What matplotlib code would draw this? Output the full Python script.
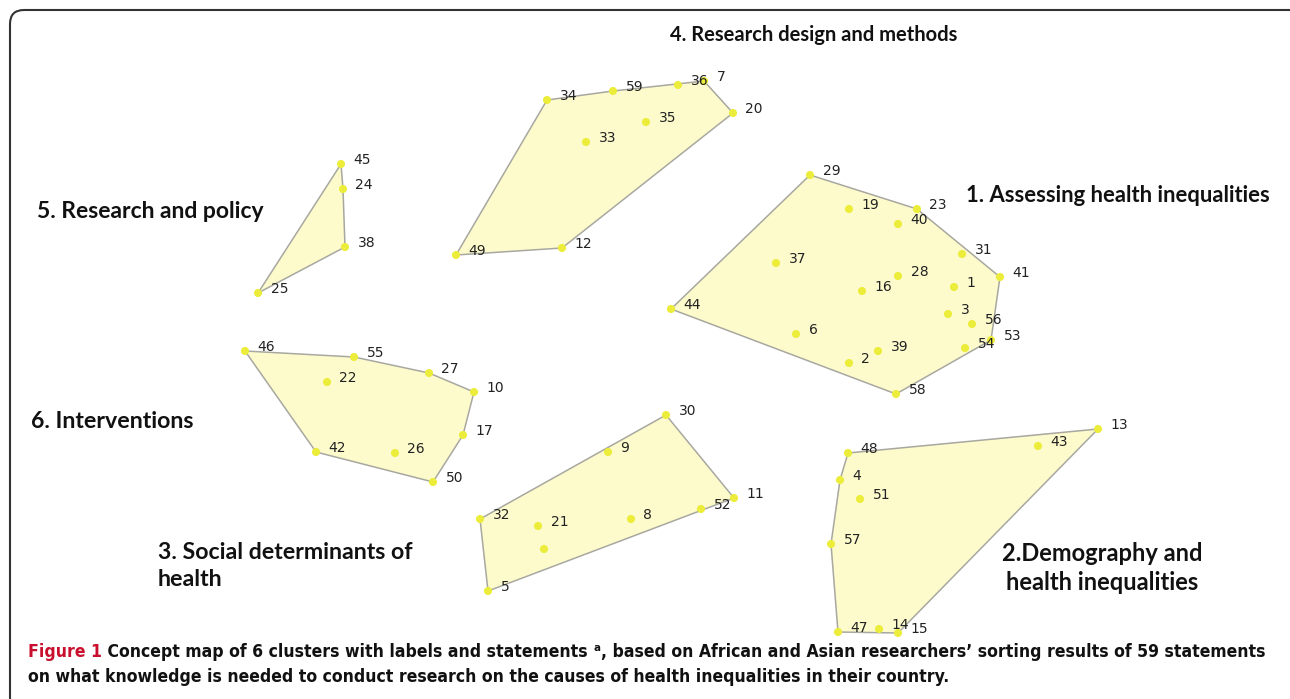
import matplotlib
matplotlib.use("Agg")
import matplotlib.pyplot as plt
from matplotlib.patches import Polygon, FancyBboxPatch

# ---------------- data (concept-map coordinates, image units) ----------------
c1_ids = ["29", "19", "23", "40", "31", "41", "37", "28", "16", "1", "44", "3",
          "56", "53", "54", "6", "39", "2", "58"]
c1_x = [810, 849, 917, 898, 962, 1000, 776, 898, 862, 954, 671, 948, 972, 991, 965, 796, 878, 849, 896]
c1_y = [175, 209, 209, 224, 254, 277, 263, 276, 291, 287, 309, 314, 324, 340, 348, 334, 351, 363, 394]

c2_ids = ["13", "43", "48", "4", "51", "57", "47", "14", "15"]
c2_x = [1098, 1038, 848, 840, 860, 831, 838, 879, 898]
c2_y = [429, 446, 453, 480, 499, 544, 632, 629, 633]

c3_ids = ["30", "9", "11", "52", "32", "21", "8", "", "5"]
c3_x = [666, 608, 734, 701, 480, 538, 631, 544, 488]
c3_y = [415, 452, 498, 509, 519, 526, 519, 549, 591]

c4_ids = ["34", "59", "36", "7", "20", "12", "49", "33", "35"]
c4_x = [547, 613, 678, 704, 733, 562, 456, 586, 646]
c4_y = [100, 91, 85, 81, 113, 248, 255, 142, 122]

c5_ids = ["45", "24", "38", "25"]
c5_x = [341, 343, 345, 258]
c5_y = [164, 189, 247, 293]

c6_ids = ["46", "55", "22", "27", "10", "17", "42", "26", "50"]
c6_x = [245, 354, 327, 429, 474, 463, 316, 395, 433]
c6_y = [351, 357, 382, 373, 392, 435, 452, 453, 482]

cluster_names = ["1. Assessing health inequalities",
                 "2.Demography and\nhealth inequalities",
                 "3. Social determinants of\nhealth",
                 "4. Research design and methods",
                 "5. Research and policy",
                 "6. Interventions"]

caption_red = "Figure 1"
caption_1 = " Concept map of 6 clusters with labels and statements "
caption_sup = "a"
caption_2 = ", based on African and Asian researchers\u2019 sorting results of 59 statements"
caption_3 = "on what knowledge is needed to conduct research on the causes of health inequalities in their country."

clusters = [(c1_ids, c1_x, c1_y), (c2_ids, c2_x, c2_y), (c3_ids, c3_x, c3_y),
            (c4_ids, c4_x, c4_y), (c5_ids, c5_x, c5_y), (c6_ids, c6_x, c6_y)]


def convex_hull(pts):
    pts = sorted(set(pts))
    if len(pts) <= 2:
        return pts

    def cross(o, a, b):
        return (a[0] - o[0]) * (b[1] - o[1]) - (a[1] - o[1]) * (b[0] - o[0])
    lower, upper = [], []
    for p in pts:
        while len(lower) >= 2 and cross(lower[-2], lower[-1], p) <= 0:
            lower.pop()
        lower.append(p)
    for p in reversed(pts):
        while len(upper) >= 2 and cross(upper[-2], upper[-1], p) <= 0:
            upper.pop()
        upper.append(p)
    return lower[:-1] + upper[:-1]


W, H = 1290, 699
fig = plt.figure(figsize=(W / 100, H / 100), dpi=100)
ax = fig.add_axes([0, 0, 1, 1])
ax.set_xlim(0, W)
ax.set_ylim(H, 0)
ax.axis("off")

# frame
frame = FancyBboxPatch((10, 10), W + 20, H + 40,
                       boxstyle="round,pad=0,rounding_size=14",
                       fc="none", ec="#333333", lw=1.5, zorder=0)
ax.add_patch(frame)

fill_c = "#fdfbcc"
edge_c = "#a8a8a0"
dot_c = "#ecec3a"

for ids, xs, ys in clusters:
    hull = convex_hull(list(zip(xs, ys)))
    ax.add_patch(Polygon(hull, closed=True, fc=fill_c, ec=edge_c, lw=1.1, zorder=1))
    ax.scatter(xs, ys, s=34, c=dot_c, edgecolors="none", zorder=3)
    for lab, x, y in zip(ids, xs, ys):
        if lab:
            ax.annotate(lab, (x, y), xytext=(9, 3), textcoords="offset points",
                        ha="left", va="center", fontsize=10, color="#222222",
                        family="DejaVu Sans", zorder=4)

lab_font = dict(family="Lato", fontweight="bold", color="#111111")
ax.text(966, 195, cluster_names[0], ha="left", va="center", fontsize=15.8, **lab_font)
ax.text(1102, 568, cluster_names[1], ha="center", va="center", linespacing=1.3,
        fontsize=17, **lab_font)
ax.text(158, 566, cluster_names[2], ha="left", va="center", linespacing=1.3,
        fontsize=16.7, **lab_font)
ax.text(670, 35, cluster_names[3], ha="left", va="center", fontsize=14.5, **lab_font)
ax.text(37, 212, cluster_names[4], ha="left", va="center", fontsize=16.5, **lab_font)
ax.text(31, 422, cluster_names[5], ha="left", va="center", fontsize=16.7, **lab_font)

# caption
cap_family = "DejaVu Sans"
cap_kw = dict(family=cap_family, fontweight="bold", fontstretch="condensed")
fs = 12.0
t0 = ax.text(28, 657, caption_red, ha="left", va="baseline", color="#c8102e",
             fontsize=fs, **cap_kw)
t1 = ax.annotate(caption_1, xy=(1, 0), xycoords=t0, va="bottom", ha="left",
                 color="#111111", fontsize=fs, **cap_kw)
t2 = ax.annotate(caption_sup, xy=(1, 0.45), xycoords=t1, va="bottom", ha="left",
                 color="#111111", fontsize=fs * 0.65, **cap_kw)
t3 = ax.annotate(caption_2, xy=(1, 0), xycoords=t1, xytext=(6, 0),
                 textcoords="offset points", va="bottom", ha="left",
                 color="#111111", fontsize=fs, **cap_kw)
t4 = ax.text(28, 682, caption_3, ha="left", va="baseline", color="#111111",
             fontsize=fs, **cap_kw)

# fit caption line 1 to the reference width (~1240 px)
fig.canvas.draw()
r = fig.canvas.get_renderer()
right = t3.get_window_extent(r).x1
scale = (1266 - 28) / (right - 28)
for t in (t0, t1, t3, t4):
    t.set_fontsize(fs * scale)
t2.set_fontsize(fs * scale * 0.65)

fig.savefig("out.png", dpi=100)
